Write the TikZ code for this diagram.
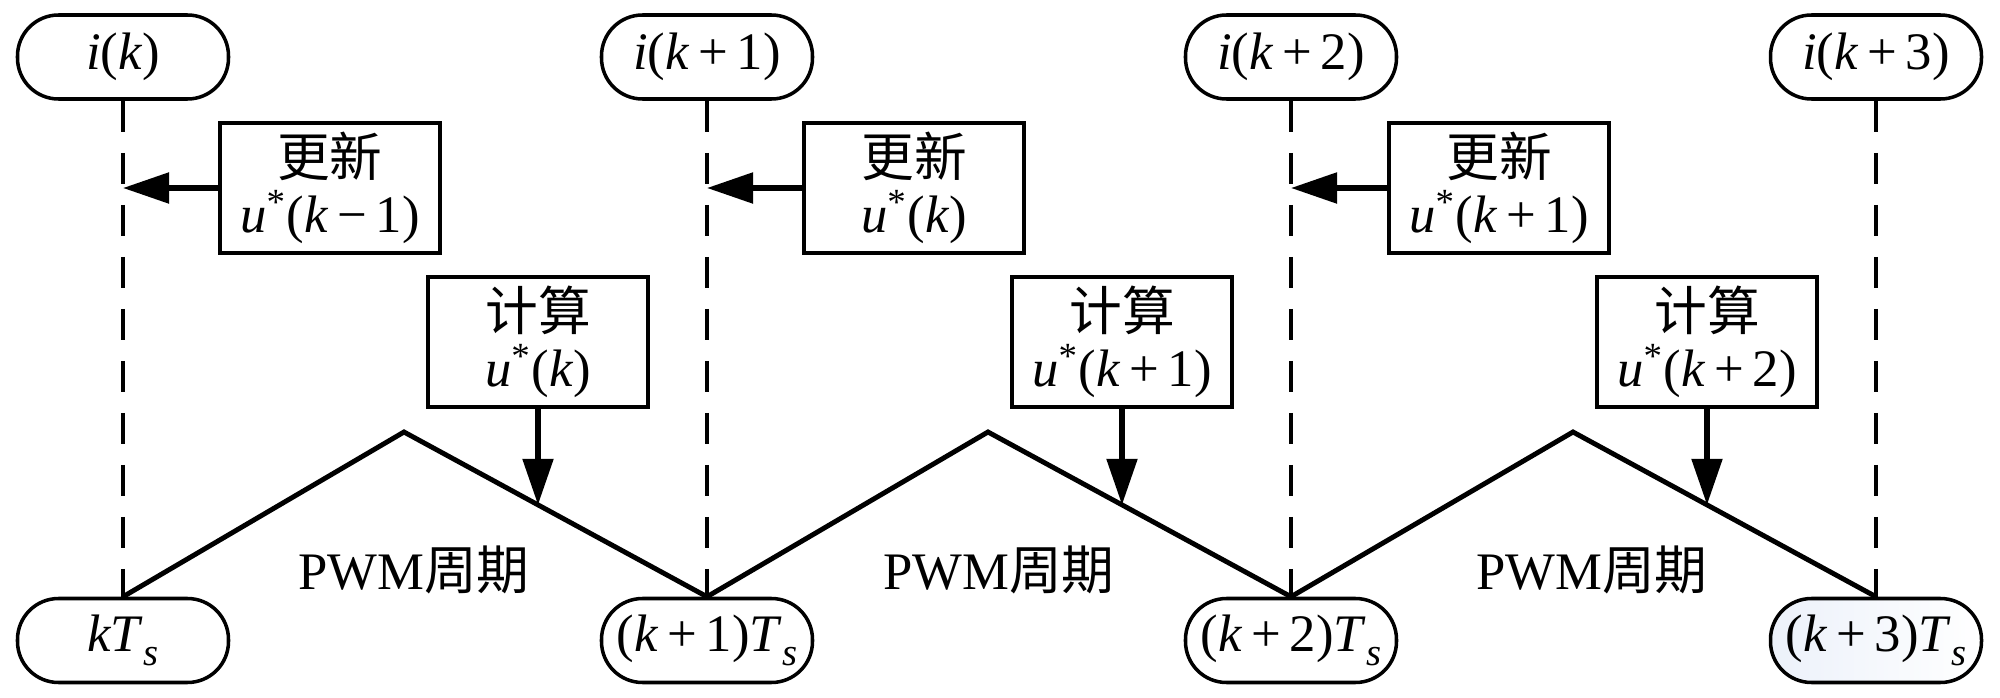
\documentclass[tikz,border=0pt]{standalone}
\usepackage{fontspec}
\setmainfont{Liberation Serif}
\newfontfamily\cjk[Scale=1.0]{Noto Sans CJK SC}
\usetikzlibrary{arrows.meta,calc}
\definecolor{pillblue}{RGB}{236,241,250}
\newcommand{\subs}{\raisebox{-0.55ex}{\fontsize{11}{12}\selectfont\textit{s}}}
\begin{document}
\begin{tikzpicture}[x=0.1mm,y=-0.1mm,
  every node/.style={font=\fontsize{15}{16}\selectfont},
  pill/.style={draw,line width=1pt,rounded corners=4.1mm,minimum width=21.1mm,minimum height=8.4mm,inner sep=0pt},
  msgbox/.style={draw,line width=0.9pt,minimum width=22mm,minimum height=13mm,align=center,inner sep=0pt},
  vline/.style={line width=1pt,dash pattern=on 3.1mm off 2.1mm},
  tri/.style={line width=1.4pt,line join=miter},
  arr/.style={line width=1.5pt,-{Triangle[length=4.6mm,width=3mm]}},
  lbl/.style={inner sep=0pt}
]
\useasboundingbox (0,0) rectangle (2000,698);
% top pills
\node[pill] (t0) at (123,57)  {\textit{i}(\textit{k})};
\node[pill] (t1) at (707,57)  {\textit{i}(\textit{k}\,+\,1)};
\node[pill] (t2) at (1291,57) {\textit{i}(\textit{k}\,+\,2)};
\node[pill] (t3) at (1876,57) {\textit{i}(\textit{k}\,+\,3)};
% bottom pills
\node[pill] (b0) at (123,640.5)  {\textit{kT}\subs};
\node[pill] (b1) at (707,640.5)  {(\textit{k}\,+\,1)\textit{T}\subs};
\node[pill] (b2) at (1291,640.5) {(\textit{k}\,+\,2)\textit{T}\subs};
\node[pill,left color=pillblue,right color=white] (b3) at (1876,640.5) {(\textit{k}\,+\,3)\textit{T}\subs};
% dashed lines
\foreach \i in {0,1,2,3} {\draw[vline] (t\i.south) -- (b\i.north);}
% update boxes
\node[msgbox] (u0) at (330,188)  {{\cjk 更新}\\\textit{u}\textsuperscript{*}(\textit{k}\,−\,1)};
\node[msgbox] (u1) at (914,188)  {{\cjk 更新}\\\textit{u}\textsuperscript{*}(\textit{k})};
\node[msgbox] (u2) at (1499,188) {{\cjk 更新}\\\textit{u}\textsuperscript{*}(\textit{k}\,+\,1)};
% compute boxes
\node[msgbox] (c0) at (538,342)  {{\cjk 计算}\\\textit{u}\textsuperscript{*}(\textit{k})};
\node[msgbox] (c1) at (1122,342) {{\cjk 计算}\\\textit{u}\textsuperscript{*}(\textit{k}\,+\,1)};
\node[msgbox] (c2) at (1707,342) {{\cjk 计算}\\\textit{u}\textsuperscript{*}(\textit{k}\,+\,2)};
% triangle peaks
\coordinate (p0) at (404,432);
\coordinate (p1) at (988,432);
\coordinate (p2) at (1573,432);
\draw[tri] (b0.north) -- (p0) -- (b1.north) -- (p1) -- (b2.north) -- (p2) -- (b3.north);
% PWM labels
\node[lbl] (w0) at (414,570)  {PWM{\cjk 周期}};
\node[lbl] (w1) at (999,570) {PWM{\cjk 周期}};
\node[lbl] (w2) at (1592,570) {PWM{\cjk 周期}};
% arrows
\foreach \i in {0,1,2} {\draw[arr] (u\i.west) -- (u\i.west -| t\i.south);}
\coordinate (a0) at ($(p0)!0.4422!(b1.north)$);
\coordinate (a1) at ($(p1)!0.4422!(b2.north)$);
\coordinate (a2) at ($(p2)!0.4422!(b3.north)$);
\foreach \i in {0,1,2} {\draw[arr] (c\i.south) -- (a\i -| c\i.south);}
\end{tikzpicture}
\end{document}
